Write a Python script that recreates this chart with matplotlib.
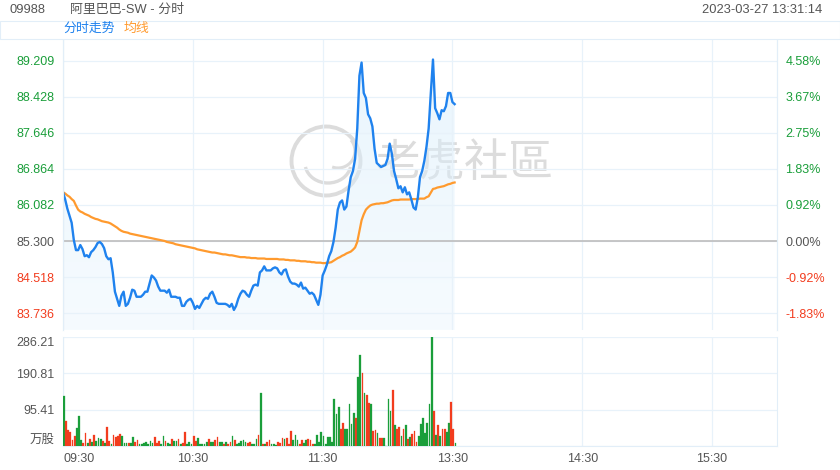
import numpy as np
import matplotlib
matplotlib.use("Agg")
import matplotlib.pyplot as plt
from matplotlib.patches import Rectangle, Circle, Arc, Polygon

plt.rcParams['font.family'] = ['Liberation Sans', 'Noto Sans CJK SC', 'DejaVu Sans']

# Chart data (one value per trading minute from 09:30)
prev_close = 85.300

price = [
    86.356, 86.202, 86.004, 85.850, 85.696, 85.322, 85.102, 85.102, 85.212, 85.124,
    84.970, 84.992, 84.948, 85.058, 85.102, 85.168, 85.256, 85.278, 85.234, 85.146,
    84.970, 84.904, 84.926, 84.618, 84.200, 84.046, 83.892, 84.112, 84.200, 83.892,
    83.936, 84.068, 84.244, 84.222, 84.090, 84.090, 84.090, 84.134, 84.200, 84.200,
    84.376, 84.552, 84.508, 84.442, 84.310, 84.222, 84.222, 84.222, 84.178, 84.244,
    84.090, 84.090, 84.090, 84.068, 84.068, 83.892, 83.892, 83.980, 84.024, 84.046,
    83.958, 83.826, 83.892, 83.848, 83.936, 84.024, 84.068, 84.046, 84.156, 84.200,
    84.090, 83.958, 83.936, 83.936, 83.936, 83.936, 83.914, 83.870, 83.936, 83.804,
    83.892, 84.046, 84.156, 84.222, 84.200, 84.134, 84.090, 84.222, 84.332, 84.354,
    84.332, 84.618, 84.662, 84.750, 84.662, 84.662, 84.662, 84.706, 84.728, 84.706,
    84.618, 84.574, 84.662, 84.684, 84.530, 84.420, 84.376, 84.376, 84.354, 84.310,
    84.398, 84.266, 84.288, 84.222, 84.156, 84.178, 84.134, 84.024, 83.914, 84.134,
    84.552, 84.662, 84.794, 84.970, 85.080, 85.278, 85.586, 85.982, 86.136, 86.180,
    85.982, 86.048, 86.400, 86.686, 86.818, 87.082, 87.742, 88.886, 89.172, 88.512,
    88.402, 88.050, 87.962, 87.786, 87.302, 86.994, 86.950, 86.906, 86.928, 86.950,
    87.082, 87.412, 87.192, 86.818, 86.642, 86.444, 86.488, 86.356, 86.466, 86.312,
    86.356, 86.202, 86.026, 85.982, 86.246, 86.686, 86.818, 87.038, 87.346, 87.742,
    88.512, 89.238, 88.182, 88.072, 87.940, 88.138, 88.116, 88.226, 88.512, 88.512,
    88.314, 88.270,
]

avg_price = [
    86.36, 86.33, 86.29, 86.26, 86.21, 86.17, 86.07, 85.98, 85.94, 85.92,
    85.89, 85.87, 85.85, 85.82, 85.80, 85.78, 85.77, 85.75, 85.73, 85.72,
    85.71, 85.70, 85.68, 85.65, 85.62, 85.59, 85.55, 85.52, 85.50, 85.49,
    85.48, 85.46, 85.45, 85.44, 85.43, 85.42, 85.41, 85.40, 85.39, 85.38,
    85.37, 85.36, 85.35, 85.34, 85.33, 85.32, 85.31, 85.30, 85.28, 85.27,
    85.26, 85.25, 85.23, 85.22, 85.21, 85.20, 85.19, 85.18, 85.17, 85.16,
    85.15, 85.14, 85.12, 85.11, 85.10, 85.09, 85.08, 85.07, 85.06, 85.05,
    85.05, 85.04, 85.03, 85.02, 85.01, 85.01, 85.00, 84.99, 84.99, 84.98,
    84.97, 84.96, 84.95, 84.95, 84.95, 84.94, 84.94, 84.93, 84.93, 84.93,
    84.92, 84.92, 84.92, 84.92, 84.91, 84.91, 84.91, 84.91, 84.91, 84.91,
    84.90, 84.90, 84.90, 84.89, 84.89, 84.88, 84.88, 84.88, 84.87, 84.87,
    84.86, 84.86, 84.86, 84.85, 84.85, 84.84, 84.84, 84.83, 84.83, 84.83,
    84.82, 84.82, 84.83, 84.83, 84.84, 84.87, 84.90, 84.93, 84.95, 84.98,
    85.00, 85.03, 85.05, 85.07, 85.11, 85.16, 85.28, 85.52, 85.75, 85.88,
    85.98, 86.03, 86.07, 86.09, 86.10, 86.11, 86.11, 86.12, 86.12, 86.13,
    86.14, 86.16, 86.18, 86.19, 86.19, 86.19, 86.20, 86.20, 86.20, 86.20,
    86.20, 86.21, 86.21, 86.21, 86.21, 86.22, 86.22, 86.22, 86.25, 86.27,
    86.35, 86.43, 86.44, 86.46, 86.47, 86.48, 86.49, 86.51, 86.53, 86.54,
    86.56, 86.57,
]

# volume in 万股
volume = [
    131, 66, 42, 36, 16, 26, 47, 78, 16, 9,
    34, 9, 18, 11, 29, 13, 20, 18, 13, 9,
    51, 13, 4, 29, 23, 25, 32, 27, 8, 8,
    7, 9, 23, 11, 16, 6, 6, 7, 10, 5,
    14, 7, 23, 9, 13, 4, 26, 13, 7, 5,
    19, 13, 13, 19, 4, 9, 37, 4, 11, 4,
    26, 13, 21, 4, 4, 4, 11, 19, 11, 11,
    17, 23, 10, 11, 6, 11, 5, 11, 26, 16,
    4, 7, 14, 16, 11, 7, 11, 5, 4, 18,
    29, 140, 5, 4, 10, 16, 5, 5, 2, 11,
    9, 20, 19, 21, 5, 40, 17, 29, 16, 5,
    15, 7, 16, 19, 16, 5, 5, 29, 11, 36,
    26, 4, 23, 23, 11, 124, 85, 102, 44, 60,
    44, 44, 109, 58, 87, 73, 182, 238, 191, 138,
    135, 113, 109, 40, 42, 35, 20, 20, 20, 0,
    124, 91, 148, 56, 44, 51, 26, 44, 56, 19,
    23, 32, 40, 11, 26, 58, 73, 34, 60, 110,
    285, 93, 29, 55, 25, 44, 44, 37, 60, 115,
    44, 7,
]

# u = price up (green), d = price down (red)
vol_dir = """
u d d d d d u u u d  d u d u d u u u d u  d d u d d d d u u u
d u u d d u u u u u  u u d d d u u d u u  d u u d u d d u u u
d d u u u u u d u u  d d u u d u d d u d  u u u u u d d u u u
d u d u d d u u u d  d d u d d d u u u d  d u u d d d u u u u
u u u u u u u u d d  u u u u u d u u d u  d d u d d u d d u u
u u d u d d u d u d  u d d d u u u u u u  u d u d u d d u u d  d u
""".split()

price_ticks = [83.736, 84.518, 85.300, 86.082, 86.864, 87.646, 88.428, 89.209]
pct_labels = ['-1.83%', '-0.92%', '0.00%', '0.92%', '1.83%', '2.75%', '3.67%', '4.58%']
vol_ticks = [0, 95.41, 190.81, 286.21]
vol_labels = ['万股', '95.41', '190.81', '286.21']
time_ticks = [0, 60, 120, 180, 240, 300]
time_labels = ['09:30', '10:30', '11:30', '13:30', '14:30', '15:30']
n_minutes = 330

# Colors
BLUE = '#1f82ee'
ORANGE = '#ff9a2e'
GREEN = '#1a9e3a'
RED = '#f23c1e'
GRAY_TXT = '#555555'
GRID = '#e8f2fa'
EDGE = '#e2eef8'

W, H = 840, 470
fig = plt.figure(figsize=(W / 100, H / 100), dpi=100)


def fx(x):
    return x / W


def fy(y):
    return 1 - y / H


t = np.arange(len(price))
vol_t = np.arange(len(volume))

# Price panel
ax = fig.add_axes([fx(63), fy(330), (777 - 63) / W, (330 - 40) / H])
ax.patch.set_alpha(0)
step = 0.0217  # price per pixel
ytop = prev_close + (241 - 40) * step
ybot = prev_close - (330 - 241) * step

# gradient fill under price line
verts = np.column_stack([np.r_[t[0], t, t[-1]], np.r_[ybot, price, ybot]])
clip = Polygon(verts, closed=True, facecolor='none', edgecolor='none')
ax.add_patch(clip)
grad = np.zeros((256, 1, 4))
grad[..., 0] = 0.86
grad[..., 1] = 0.94
grad[..., 2] = 0.99
grad[..., 3] = np.linspace(0.6, 0.25, 256).reshape(-1, 1)
img = ax.imshow(grad, extent=[0, n_minutes, ybot, max(price)], aspect='auto',
                origin='upper', zorder=1)
img.set_clip_path(clip)
ax.set_xlim(0, n_minutes)
ax.set_ylim(ybot, ytop)

ax.axhline(prev_close, color='#bdbdbd', lw=1.2, zorder=2)
ax.plot(t, price, color=BLUE, lw=1.7, zorder=4, solid_joinstyle='round')
ax.plot(t, avg_price, color=ORANGE, lw=1.6, zorder=3)

ax.set_xticks(time_ticks)
ax.set_yticks(price_ticks)
ax.set_yticklabels([f"{v:.3f}" for v in price_ticks])
ax.grid(True, color=GRID, lw=0.9, zorder=0)
ax.tick_params(length=0, labelbottom=False, pad=6, labelsize=9)
for lab, v in zip(ax.get_yticklabels(), price_ticks):
    lab.set_color(GREEN if v > prev_close else (RED if v < prev_close else GRAY_TXT))

axr = ax.twinx()
axr.set_ylim(ybot, ytop)
axr.set_yticks(price_ticks)
axr.set_yticklabels(pct_labels)
axr.tick_params(length=0, pad=6, labelsize=9)
for lab, v in zip(axr.get_yticklabels(), price_ticks):
    lab.set_color(GREEN if v > prev_close else (RED if v < prev_close else GRAY_TXT))

for a in (ax, axr):
    a.spines['top'].set_visible(False)
    a.spines['bottom'].set_visible(False)
    a.spines['left'].set_color(EDGE)
    a.spines['right'].set_color(EDGE)

# Volume panel
axv = fig.add_axes([fx(63), fy(446), (777 - 63) / W, (446 - 337) / H])
bar_colors = [GREEN if d == 'u' else RED for d in vol_dir]
axv.bar(vol_t, volume, width=0.8, align='edge', color=bar_colors,
        edgecolor=bar_colors, lw=0.2, zorder=3)
axv.set_xlim(0, n_minutes)
axv.set_ylim(0, vol_ticks[-1])
axv.set_yticks(vol_ticks)
axv.set_yticklabels(vol_labels)
axv.set_xticks(time_ticks)
axv.set_xticklabels(time_labels)
axv.grid(True, color=GRID, lw=0.9, zorder=0)
axv.tick_params(length=0, pad=6, labelsize=9, colors=GRAY_TXT)
axv.tick_params(axis='x', pad=5)
ylabs = axv.get_yticklabels()
ylabs[0].set_va('bottom')
ylabs[-1].set_va('top')
axv.get_xticklabels()[0].set_ha('left')
axv.spines['top'].set_visible(False)
for s in ('left', 'right', 'bottom'):
    axv.spines[s].set_color(EDGE)

# Header
fig.text(fx(10), fy(10), '09988', color=GRAY_TXT, fontsize=9.3, va='center')
fig.text(fx(70), fy(10), '阿里巴巴-SW - 分时', color=GRAY_TXT, fontsize=9.3, va='center')
fig.text(fx(822), fy(10), '2023-03-27 13:31:14', color=GRAY_TXT, fontsize=9.3,
         va='center', ha='right')
fig.add_artist(Rectangle((0, fy(39)), 1, 18 / H, transform=fig.transFigure,
                         fill=False, edgecolor=EDGE, lw=0.8))
fig.text(fx(63), fy(29), '分时走势', color=BLUE, fontsize=9.3, va='center')
fig.text(fx(124), fy(29), '均线', color=ORANGE, fontsize=9.3, va='center')

# Watermark
WM = '#dcdcdc'
tr = fig.dpi_scale_trans
cx, cy = 326 / 100, (H - 161) / 100
fig.add_artist(Circle((cx, cy), 0.345, transform=tr, fill=False, ec=WM, lw=2.8, zorder=-1))
fig.add_artist(Arc((cx + 0.02, cy - 0.02), 0.46, 0.4, theta1=190, theta2=350,
                   transform=tr, ec=WM, lw=2.4, zorder=-1))
fig.add_artist(Arc((cx + 0.12, cy + 0.1), 0.34, 0.34, theta1=250, theta2=40,
                   transform=tr, ec=WM, lw=2.2, zorder=-1))
fig.text(fx(465), fy(163), '老虎社區', color=WM, fontsize=32, ha='center', va='center',
         family=['Noto Sans CJK TC', 'Noto Sans CJK SC'], zorder=-1)

fig.savefig('out.png', dpi=100)
